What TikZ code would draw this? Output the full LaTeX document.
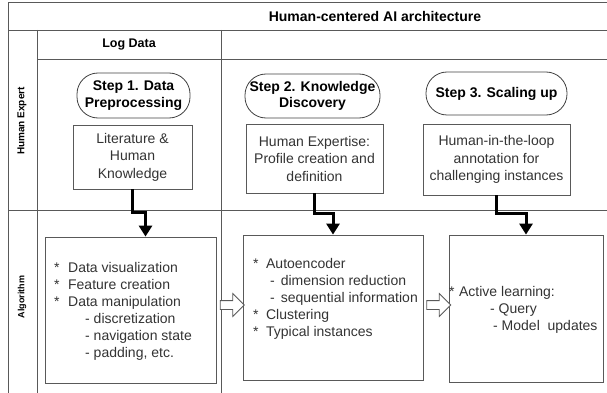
\documentclass[tikz,border=0pt]{standalone}
\usepackage{fontspec}
\setmainfont{Liberation Sans}
\usetikzlibrary{shapes.arrows,arrows.meta}

\definecolor{linegray}{gray}{0.35}
\definecolor{textgray}{gray}{0.2}

\begin{document}
\begin{tikzpicture}[x=1pt,y=-1pt,
    frame/.style={draw=linegray,line width=0.8pt},
    stepbox/.style={draw=black!75,line width=0.8pt,rounded corners=21pt,align=center,inner sep=0pt,font=\fontsize{14}{16.5}\selectfont\bfseries},
    box/.style={draw=linegray,line width=0.8pt,align=center,inner sep=0pt,text=textgray,font=\fontsize{14}{17.5}\selectfont},
    list/.style={anchor=west,align=left,inner sep=0pt,text=textgray,font=\fontsize{14}{17}\selectfont},
    flow/.style={line width=3pt,-{Triangle[width=13pt,length=11pt]}},
    hollow/.style={single arrow,draw=linegray,line width=0.8pt,fill=white,inner sep=4pt,single arrow head extend=7pt,minimum height=24pt},
    lane/.style={rotate=90,font=\bfseries}
  ]
    \useasboundingbox (0,0) rectangle (607,393);
    % swimlane frame
    \draw[frame] (8,393) -- (8,2) -- (607,2);
    \draw[frame] (8,30) -- (607,30);
    \draw[frame] (37,30) -- (37,393);
    \draw[frame] (37,59) -- (607,59);
    \draw[frame] (221,30) -- (221,393);
    \draw[frame] (8,210) -- (607,210);
    \node[font=\fontsize{14}{16}\selectfont\bfseries] (title) at (375,16) {Human-centered AI architecture};
    \node[font=\fontsize{12.5}{15}\selectfont\bfseries] (logdata) at (129,45) {Log Data};
    \node[lane,font=\fontsize{10}{12}\selectfont\bfseries] (expert) at (22,121) {Human Expert};
    \node[lane,font=\fontsize{9}{11}\selectfont\bfseries] (algo) at (22,297) {Algorithm};
    % steps
    \node[stepbox,minimum width=113pt,minimum height=45pt] (step1) at (133.5,95.5) {Step 1. Data\\Preprocessing};
    \node[stepbox,minimum width=135pt,minimum height=44pt] (step2) at (312.5,96) {Step 2. Knowledge\\Discovery};
    \node[stepbox,minimum width=141pt,minimum height=43pt] (step3) at (496.5,93.5) {Step 3. Scaling up};
    % expert boxes
    \node[box,minimum width=119pt,minimum height=64pt] (lit) at (132.5,157) {Literature \&\\Human\\Knowledge};
    \node[box,minimum width=137pt,minimum height=69pt] (hexp) at (314.5,158.5) {Human Expertise:\\Profile creation and\\definition};
    \node[box,minimum width=147pt,minimum height=71pt] (hitl) at (496.5,159.5) {Human-in-the-loop\\annotation for\\challenging instances};
    % algorithm boxes
    \node[box,minimum width=171pt,minimum height=146pt] (alg1) at (130.5,310) {};
    \node[box,minimum width=180pt,minimum height=145pt] (alg2) at (333,307.5) {};
    \node[box,minimum width=154pt,minimum height=147pt] (alg3) at (526,308.5) {};
    \node[list] (prep) at (54,311) {*\hspace{8.5pt}Data visualization\\*\hspace{8.5pt}Feature creation\\*\hspace{8.5pt}Data manipulation\\\hspace*{31pt}- discretization\\\hspace*{31pt}- navigation state\\\hspace*{31pt}- padding, etc.};
    \node[list] (disc) at (253,299) {*\hspace{7.5pt}Autoencoder\\\hspace*{17pt}-\hspace{6pt}dimension reduction\\\hspace*{17pt}-\hspace{6pt}sequential information\\*\hspace{7.5pt}Clustering\\*\hspace{7.5pt}Typical instances};
    \node[list] (active) at (449,309.5) {*\hspace{4.5pt}Active learning:\\\hspace*{41pt}- Query\\\hspace*{44pt}- Model\ \ updates};
    % hand-over arrows
    \draw[flow] (lit.south) -- ++(0,23) -| ([xshift=15pt]alg1.north);
    \draw[flow] (hexp.south) -- ++(0,20) -| (alg2.north);
    \draw[flow] (hitl.south) -- ++(0,18) -| (alg3.north);
    \node[hollow] (a12) at (230,305) {};
    \node[hollow] (a23) at (436.5,305) {};
  \end{tikzpicture}
\end{document}
